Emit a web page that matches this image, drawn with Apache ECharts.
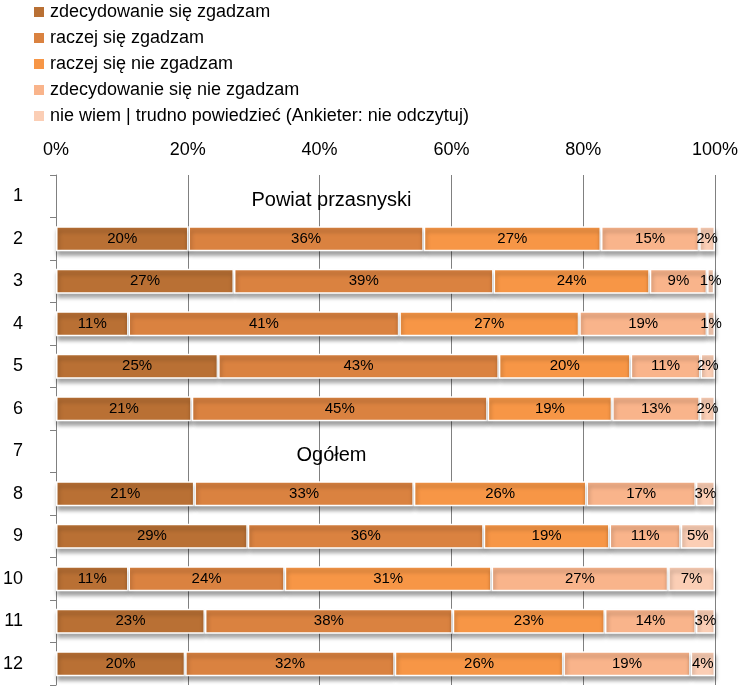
<!DOCTYPE html>
<html><head><meta charset="utf-8">
<script src="https://cdn.jsdelivr.net/npm/echarts@6/dist/echarts.min.js"></script>
<style>html,body{margin:0;padding:0;background:#fff}#c{width:741px;height:687px}</style>
</head><body><div id="c"></div>
<script>
const categories = ['1','2','3','4','5','6','7','8','9','10','11','12'];
const seriesNames = ['zdecydowanie się zgadzam','raczej się zgadzam','raczej się nie zgadzam','zdecydowanie się nie zgadzam','nie wiem | trudno powiedzieć (Ankieter: nie odczytuj)'];
const s1 = [null,20.1,27.0,11.0,24.6,20.6,null,21.0,29.1,11.0,22.6,19.6];
const s2 = [null,35.7,39.4,41.1,42.6,44.9,null,33.3,35.8,23.7,37.6,31.8];
const s3 = [null,26.9,23.7,27.3,20.0,18.9,null,26.2,19.1,31.4,23.1,25.6];
const s4 = [null,14.9,8.7,19.4,10.6,13.3,null,16.6,10.8,26.8,13.8,19.3];
const s5 = [null,2.4,1.1,1.2,2.2,2.3,null,2.9,5.2,7.1,2.9,3.7];
const sectionRows = ['1','7'];
const sectionTitles = ['Powiat przasnyski','Ogółem'];
const sectionX = [41.8,41.8];
const xTicks = [0,20,40,60,80,100];
const colors = ['#B97034','#DA8240','#F79646','#F9B48B','#FBCEB5'];

const FONT = '"Liberation Sans",sans-serif';
const values = [s1,s2,s3,s4,s5];
const chart = echarts.init(document.getElementById('c'));
const series = values.map((v,i)=>({
  name: seriesNames[i], type:'bar', stack:'all', data:v, barWidth:25,
  itemStyle:{color:colors[i], borderColor:'#fff', borderWidth:1.5,
    shadowColor:'rgba(0,0,0,0.35)', shadowBlur:4, shadowOffsetY:4, shadowOffsetX:1},
  label:{show:true, position:'inside', color:'#000', fontFamily:FONT, fontSize:15,
    formatter:p=>p.value==null?'':Math.round(p.value)+'%'},
  emphasis:{disabled:true}
}));
series.push({
  type:'scatter', symbolSize:0, silent:true,
  data: sectionRows.map((r,i)=>({value:[sectionX[i], r], name:sectionTitles[i]})),
  label:{show:true, position:'inside', offset:[0,4], formatter:p=>p.name, color:'#000', opacity:1, fontFamily:FONT, fontSize:20}
});
chart.setOption({
  animation:false,
  color:colors,
  legend:{orient:'vertical', left:27, top:-2, itemWidth:12, itemHeight:12, itemGap:8, icon:'rect',
    data:seriesNames, textStyle:{fontFamily:FONT, fontSize:18, color:'#000'}},
  grid:{left:54, right:26, top:175, bottom:2, containLabel:false},
  xAxis:{type:'value', position:'top', min:0, max:100, interval:20,
    axisLine:{show:false}, axisTick:{show:false},
    splitLine:{show:true, lineStyle:{color:'#808080', width:1}},
    axisLabel:{formatter:v=>xTicks.includes(v)?v+'%':'', fontFamily:FONT, fontSize:18, color:'#000', margin:16}},
  yAxis:{type:'category', inverse:true, data:categories,
    axisLine:{show:true, lineStyle:{color:'#808080'}},
    axisTick:{show:true, length:6, lineStyle:{color:'#808080'}},
    axisLabel:{fontFamily:FONT, fontSize:18, color:'#000', margin:33}},
  series:series
});
</script></body></html>
